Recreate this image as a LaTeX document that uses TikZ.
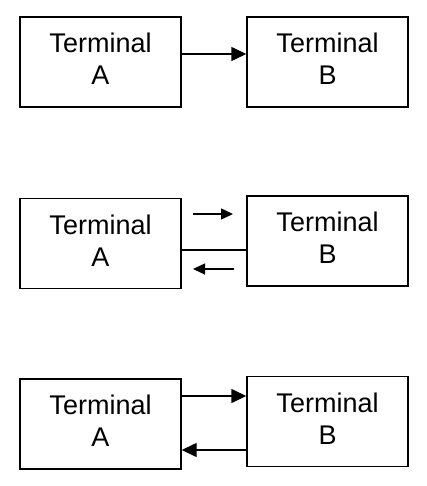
\documentclass[tikz,border=0pt]{standalone}
\usepackage{fontspec}
\setmainfont{Liberation Sans}
\usetikzlibrary{arrows.meta}
\begin{document}
\begin{tikzpicture}[x=1pt,y=-1pt,
  term/.style={draw,line width=1.4pt,minimum width=161pt,minimum height=90pt,inner sep=0pt,align=center,
    font=\fontsize{27}{32}\selectfont,execute at end node={\rule[-6pt]{0pt}{6pt}}},
  conn/.style={line width=1.4pt},
  big/.style={-{Triangle[length=15pt,width=14pt]}},
  small/.style={-{Triangle[length=12pt,width=11pt]}}]
\useasboundingbox (0,0) rectangle (426,486);
% row 1
\node[term] (A1) at (100.5,62) {Terminal\\A};
\node[term] (B1) at (327.5,62) {Terminal\\B};
\draw[conn,big] (A1.east |- 0,54) -- (B1.west |- 0,54);
% row 2
\node[term] (A2) at (100.5,243.5) {Terminal\\A};
\node[term] (B2) at (327.5,241) {Terminal\\B};
\draw[conn] (A2.east |- 0,250) -- (B2.west |- 0,250);
\coordinate (r1) at (193,214);
\coordinate (r2) at (233,214);
\coordinate (l1) at (234,269);
\coordinate (l2) at (193,269);
\draw[conn,small] (r1) -- (r2);
\draw[conn,small] (l1) -- (l2);
% row 3
\node[term] (A3) at (100.5,424) {Terminal\\A};
\node[term] (B3) at (327.5,421.5) {Terminal\\B};
\draw[conn,big] (A3.east |- 0,396) -- (B3.west |- 0,396);
\draw[conn,big] (B3.west |- 0,450) -- (A3.east |- 0,450);
\end{tikzpicture}
\end{document}
